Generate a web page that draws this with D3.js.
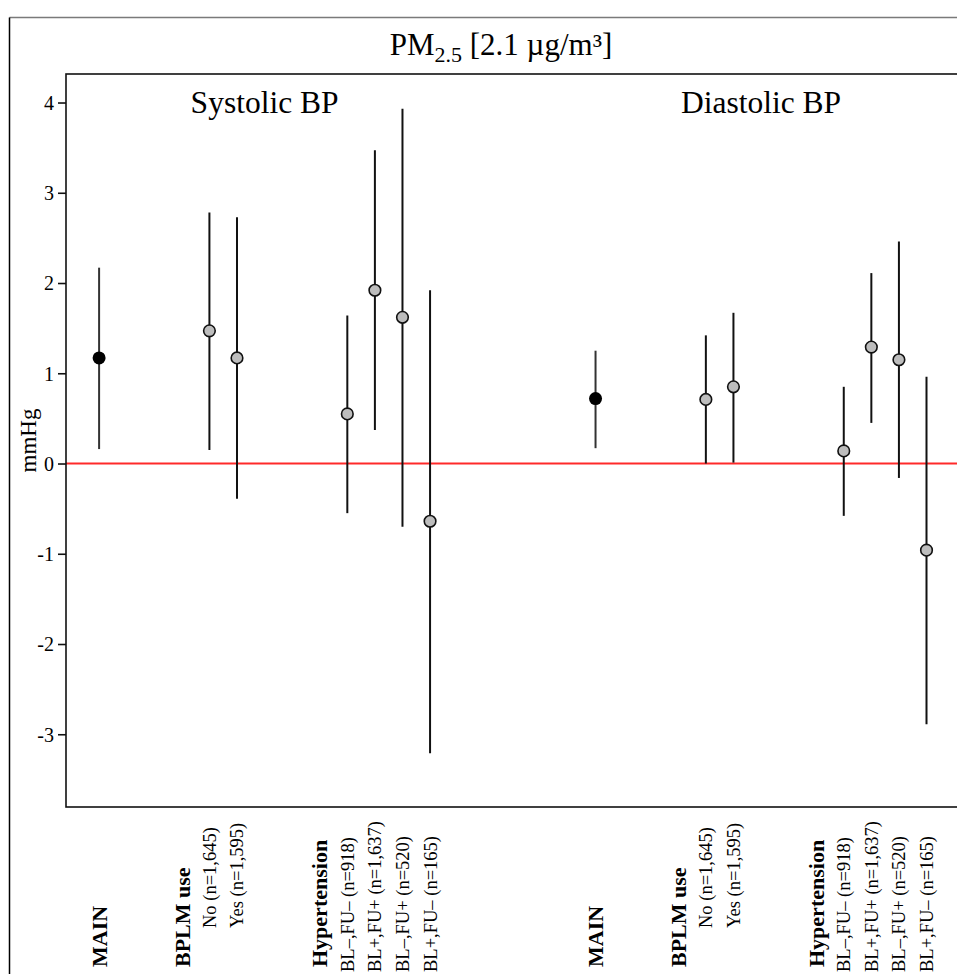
<!DOCTYPE html>
<html>
<head>
<meta charset="utf-8">
<script src="https://cdn.jsdelivr.net/npm/d3@7"></script>
<style>
  html, body { margin: 0; padding: 0; background: #fff; }
  svg { display: block; }
  text { font-family: "Liberation Serif", "Times New Roman", serif; fill: #000; }
</style>
</head>
<body>
<script>
// ---------------- DATA ----------------
const titleMain = "PM";
const titleSub = "2.5";
const titleRest = " [2.1 µg/m³]";
const yLabel = "mmHg";
const outcomes = ["Systolic BP", "Diastolic BP"];

// row structure for one outcome block (null = empty slot)
const rowLabels = ["MAIN", null, null, "BPLM use", "No (n=1,645)", "Yes (n=1,595)", null, null,
                   "Hypertension", "BL–,FU– (n=918)", "BL+,FU+ (n=1,637)", "BL–,FU+ (n=520)", "BL+,FU– (n=165)"];
const rowKinds  = ["main", "blank", "blank", "header", "bplm", "bplm", "blank", "blank",
                   "header", "hyp", "hyp", "hyp", "hyp"];
const gapSlots = 5;

// estimates for rows that carry a point: MAIN, No, Yes, BL-FU-, BL+FU+, BL-FU+, BL+FU-
const sbpEst   = [1.17, 1.47, 1.17, 0.55, 1.92, 1.62, -0.64];
const sbpLower = [0.16, 0.15, -0.39, -0.55, 0.37, -0.70, -3.21];
const sbpUpper = [2.17, 2.78, 2.73, 1.64, 3.47, 3.93, 1.92];
const dbpEst   = [0.72, 0.71, 0.85, 0.14, 1.29, 1.15, -0.96];
const dbpLower = [0.17, 0.00, 0.01, -0.58, 0.45, -0.16, -2.89];
const dbpUpper = [1.25, 1.42, 1.67, 0.85, 2.11, 2.46, 0.96];

const yTicks = [-3, -2, -1, 0, 1, 2, 3, 4];
const yDomain = [-3.806, 4.316];

// ---------------- LAYOUT ----------------
const W = 957, H = 974;
const panel = { left: 66, top: 74, right: 959.6, bottom: 807 };

const svg = d3.select("body").append("svg").attr("width", W).attr("height", H);

// outer frame (figure border)
svg.append("line").attr("x1", 9.5).attr("x2", W + 5).attr("y1", 17.5).attr("y2", 17.5)
  .attr("stroke", "#7a7a7a").attr("stroke-width", 1.5);
svg.append("line").attr("x1", 9.5).attr("x2", 9.5).attr("y1", 17.5).attr("y2", H + 5)
  .attr("stroke", "#000").attr("stroke-width", 1.5);

// build slots
const slots = [];
const pointSeries = [
  { est: sbpEst, lo: sbpLower, hi: sbpUpper },
  { est: dbpEst, lo: dbpLower, hi: dbpUpper }
];
outcomes.forEach((oc, oi) => {
  let pi = 0;
  rowLabels.forEach((lab, ri) => {
    const kind = rowKinds[ri];
    const s = { key: `o${oi}r${ri}`, label: lab, kind, outcome: oi, row: ri };
    if (kind === "main" || kind === "bplm" || kind === "hyp") {
      s.est = pointSeries[oi].est[pi];
      s.lo = pointSeries[oi].lo[pi];
      s.hi = pointSeries[oi].hi[pi];
      pi++;
    }
    slots.push(s);
  });
  if (oi < outcomes.length - 1) {
    for (let g = 0; g < gapSlots; g++) slots.push({ key: `gap${oi}_${g}`, label: null, kind: "blank" });
  }
});

const x = d3.scalePoint().domain(slots.map(d => d.key))
  .range([panel.left, panel.right]).padding(1.2);
const y = d3.scaleLinear().domain(yDomain).range([panel.bottom, panel.top]);

// clip for panel content
svg.append("clipPath").attr("id", "pclip").append("rect")
  .attr("x", panel.left).attr("y", panel.top)
  .attr("width", panel.right - panel.left).attr("height", panel.bottom - panel.top);

const plot = svg.append("g").attr("clip-path", "url(#pclip)");

// zero reference line
plot.append("line")
  .attr("x1", panel.left).attr("x2", panel.right)
  .attr("y1", y(0)).attr("y2", y(0))
  .attr("stroke", "#ff2a2a").attr("stroke-width", 2);

const pts = slots.filter(d => d.est !== undefined);

// CI lines
plot.selectAll("line.ci").data(pts).enter().append("line")
  .attr("class", "ci")
  .attr("x1", d => x(d.key)).attr("x2", d => x(d.key))
  .attr("y1", d => y(d.lo)).attr("y2", d => y(d.hi))
  .attr("stroke", d => d.kind === "main" ? "#333" : "#111")
  .attr("stroke-width", 2);

// points
plot.selectAll("circle.pt").data(pts).enter().append("circle")
  .attr("class", "pt")
  .attr("cx", d => x(d.key)).attr("cy", d => y(d.est))
  .attr("r", d => d.kind === "main" ? 6.5 : 5.8)
  .attr("fill", d => d.kind === "main" ? "#000" : "#bdbdbd")
  .attr("stroke", "#111")
  .attr("stroke-width", d => d.kind === "main" ? 0 : 1.6);

// panel frame
svg.append("rect")
  .attr("x", panel.left).attr("y", panel.top)
  .attr("width", panel.right - panel.left).attr("height", panel.bottom - panel.top)
  .attr("fill", "none").attr("stroke", "#111").attr("stroke-width", 1.6);

// y axis
const yAxis = d3.axisLeft(y).tickValues(yTicks).tickSize(8).tickPadding(4)
  .tickFormat(d => String(d));
const yg = svg.append("g").attr("transform", `translate(${panel.left},0)`).call(yAxis);
yg.select(".domain").remove();
yg.selectAll(".tick line").attr("stroke", "#111").attr("stroke-width", 1.6);
yg.selectAll(".tick text")
  .attr("font-family", "Liberation Serif, serif")
  .attr("font-size", 20).attr("fill", "#000").attr("dy", "0.34em");

// y label
svg.append("text")
  .attr("transform", `translate(36,${(panel.top + panel.bottom) / 2}) rotate(-90)`)
  .attr("text-anchor", "middle")
  .attr("font-size", 23)
  .text(yLabel);

// title
const title = svg.append("text")
  .attr("x", 501).attr("y", 55)
  .attr("text-anchor", "middle")
  .attr("font-size", 31);
title.append("tspan").text(titleMain);
title.append("tspan").attr("font-size", 22).attr("dy", 7).text(titleSub);
title.append("tspan").attr("dy", -7).text(titleRest);

// outcome subtitles, centred on the middle row of each block
const midRow = Math.floor((rowLabels.length - 1) / 2);
outcomes.forEach((oc, oi) => {
  svg.append("text")
    .attr("x", x(`o${oi}r${midRow}`)).attr("y", 113)
    .attr("text-anchor", "middle")
    .attr("font-size", 31.5)
    .text(oc);
});

// x category labels (rotated)
const labelBottom = { main: 967, header: 967, bplm: 928, hyp: 972 };
const labelled = slots.filter(d => d.label);
svg.selectAll("text.xl").data(labelled).enter().append("text")
  .attr("class", "xl")
  .attr("transform", d => `translate(${x(d.key)},${labelBottom[d.kind]}) rotate(-90)`)
  .attr("dy", "0.35em")
  .attr("text-anchor", "start")
  .attr("font-weight", d => (d.kind === "main" || d.kind === "header") ? "bold" : "normal")
  .attr("font-size", d => (d.kind === "main" || d.kind === "header") ? 22 : 18.5)
  .text(d => d.label);
</script>
</body>
</html>
